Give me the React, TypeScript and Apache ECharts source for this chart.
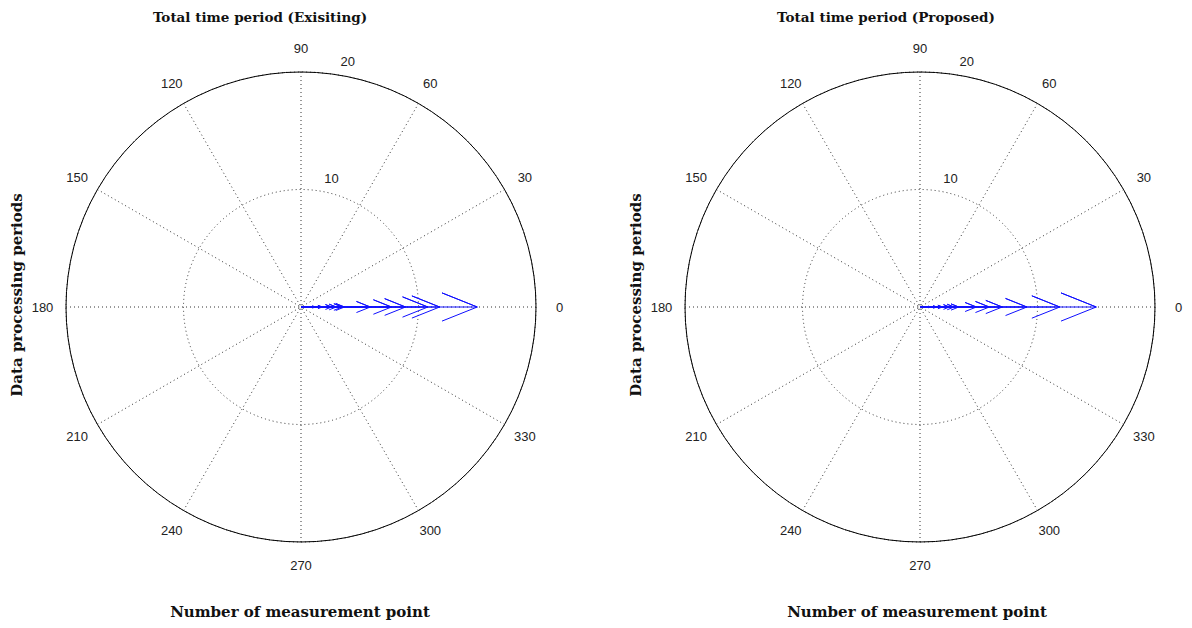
import React, { useEffect, useRef } from 'react';
import * as echarts from 'echarts';

// ---- data ----
const angleTicks = [0, 30, 60, 90, 120, 150, 180, 210, 240, 270, 300, 330];
const radiusTicks = [10, 20];
const radiusMax = 20;
// compass arrows (magnitude, direction in degrees)
const existingMagnitudes = [1.2, 1.8, 2.6, 3.0, 3.5, 3.7, 5.9, 7.7, 8.9, 10.8, 11.8, 15.0];
const existingDirections = [0, 0, 0, 0, 0, 0, 0, 0, 0, 0, 0, 0];
const proposedMagnitudes = [0.9, 1.4, 1.9, 2.5, 2.9, 3.3, 4.8, 5.9, 7.0, 9.1, 11.9, 15.0];
const proposedDirections = [0, 0, 0, 0, 0, 0, 0, 0, 0, 0, 0, 0];

const titles = ['Total time period (Exisiting)', 'Total time period (Proposed)'];
const xLabel = 'Number of measurement point';
const yLabel = 'Data processing periods';

const panels = [
  { cx: 301, cy: 307, r: 235, titleX: 260, xlabelX: 300, ylabelX: 17, mags: existingMagnitudes, dirs: existingDirections, title: titles[0] },
  { cx: 920, cy: 307, r: 235, titleX: 886, xlabelX: 917, ylabelX: 636, mags: proposedMagnitudes, dirs: proposedDirections, title: titles[1] },
];

const barbR = Math.sqrt(0.8 * 0.8 + 0.08 * 0.08);
const barbA = (Math.atan2(0.08, 0.8) * 180) / Math.PI;

function arrowPoints(m: number, d: number) {
  const norm = (a: number) => ((a % 360) + 360) % 360;
  return [
    [0, norm(d)],
    [m, norm(d)],
    [m * barbR, norm(d + barbA)],
    [m, norm(d)],
    [m * barbR, norm(d - barbA)],
  ];
}

const labelFont = { fontFamily: '"Liberation Sans", Arial, sans-serif', fontSize: 13, fill: '#222' };
const headFont = { fontFamily: '"DejaVu Serif", serif', fontWeight: 'bold', fill: '#111' };

function buildOption() {
  const polar: any[] = [];
  const angleAxis: any[] = [];
  const radiusAxis: any[] = [];
  const series: any[] = [];
  const graphic: any[] = [];

  panels.forEach((p, i) => {
    polar.push({ center: [p.cx, p.cy], radius: p.r });
    angleAxis.push({
      polarIndex: i,
      type: 'value',
      min: 0,
      max: 360,
      interval: 30,
      startAngle: 0,
      clockwise: false,
      axisLine: { show: true, lineStyle: { color: '#000', width: 1 } },
      axisTick: { show: false },
      axisLabel: { show: false },
      splitLine: { show: true, lineStyle: { color: '#333', width: 1, type: [1, 3] } },
      splitArea: { show: false },
    });
    radiusAxis.push({
      polarIndex: i,
      type: 'value',
      min: 0,
      max: radiusMax,
      interval: 10,
      axisLine: { show: false },
      axisTick: { show: false },
      axisLabel: { show: false },
      splitLine: { show: true, lineStyle: { color: '#333', width: 1, type: [1, 3] } },
      splitArea: { show: false },
    });
    p.mags.forEach((m, k) => {
      series.push({
        type: 'line',
        coordinateSystem: 'polar',
        polarIndex: i,
        data: arrowPoints(m, p.dirs[k]),
        symbol: 'none',
        silent: true,
        clip: false,
        lineStyle: { color: '#1010ff', width: 1 },
      });
    });
    // angle labels (1.1 * rmax, centered)
    angleTicks.forEach((a) => {
      const rad = (a * Math.PI) / 180;
      graphic.push({
        type: 'text',
        x: p.cx + 1.1 * p.r * Math.cos(rad),
        y: p.cy - 1.1 * p.r * Math.sin(rad),
        style: { ...labelFont, text: String(a), align: 'center', verticalAlign: 'middle' },
      });
    });
    // radius labels at 82 degrees
    radiusTicks.forEach((t) => {
      const rr = ((t + 0.5) / radiusMax) * p.r;
      const rad = (82 * Math.PI) / 180;
      graphic.push({
        type: 'text',
        x: p.cx + rr * Math.cos(rad) + 6,
        y: p.cy - rr * Math.sin(rad),
        style: { ...labelFont, text: String(t), align: 'left', verticalAlign: 'bottom' },
      });
    });
    graphic.push({
      type: 'text',
      x: p.titleX,
      y: 17,
      style: { ...headFont, fontSize: 13.5, text: p.title, align: 'center', verticalAlign: 'middle' },
    });
    graphic.push({
      type: 'text',
      x: p.xlabelX,
      y: 612,
      style: { ...headFont, fontSize: 15, text: xLabel, align: 'center', verticalAlign: 'middle' },
    });
    graphic.push({
      type: 'text',
      x: p.ylabelX,
      y: 295,
      rotation: Math.PI / 2,
      style: { ...headFont, fontSize: 15, text: yLabel, align: 'center', verticalAlign: 'middle' },
    });
  });

  return {
    animation: false,
    backgroundColor: '#ffffff',
    polar,
    angleAxis,
    radiusAxis,
    series,
    graphic,
  };
}

export default function App() {
  const ref = useRef<HTMLDivElement>(null);
  useEffect(() => {
    document.body.style.margin = '0';
    if (!ref.current) return;
    const chart = echarts.init(ref.current, undefined, { renderer: 'svg' });
    chart.setOption(buildOption());
    return () => chart.dispose();
  }, []);
  return <div ref={ref} style={{ width: 1192, height: 628, background: '#fff' }} />;
}
